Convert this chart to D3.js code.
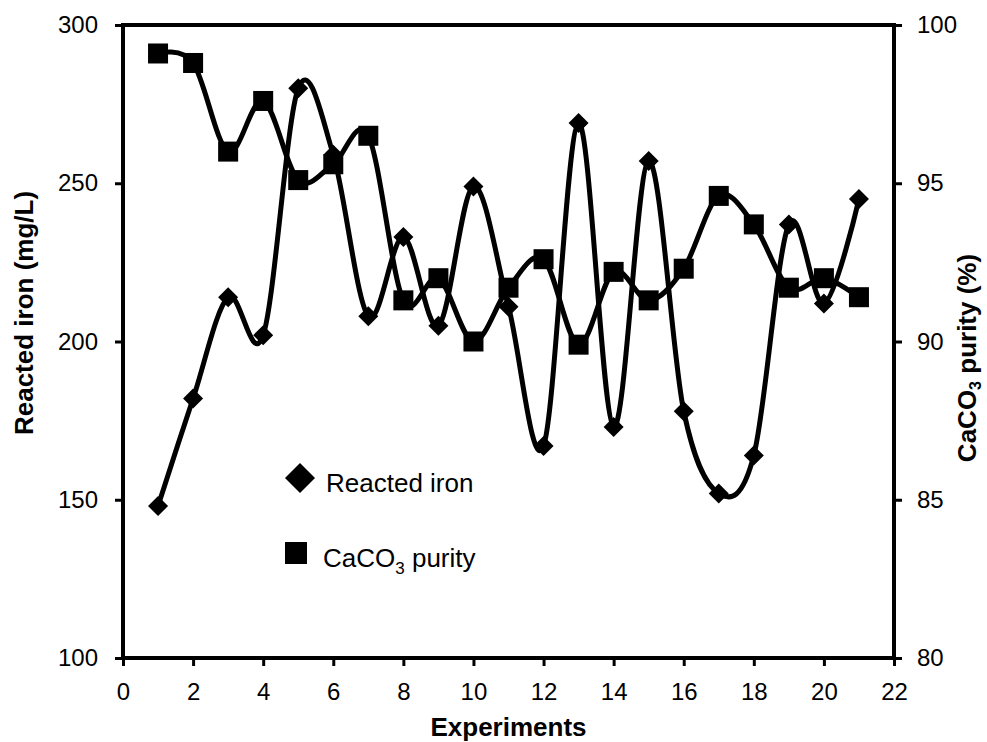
<!DOCTYPE html>
<html>
<head>
<meta charset="utf-8">
<script src="https://cdn.jsdelivr.net/npm/d3@7"></script>
<style>
  body { margin: 0; background: #fff; }
  svg { display: block; font-family: "Liberation Sans", Arial, sans-serif; }
</style>
</head>
<body>
<svg id="chart" width="987" height="742"></svg>
<script>
// Données
const experiments = d3.range(1, 22);
const reactedIron = [148, 182, 214, 202, 280, 259, 208, 233, 205, 249, 211, 167, 269, 173, 257, 178, 152, 164, 237, 212, 245];
const purity = [99.1, 98.8, 96.0, 97.6, 95.1, 95.6, 96.5, 91.3, 92.0, 90.0, 91.7, 92.6, 89.9, 92.2, 91.3, 92.3, 94.6, 93.7, 91.7, 92.0, 91.4];
const xTicks = d3.range(0, 23, 2);
const leftTicks = [100, 150, 200, 250, 300];
const rightTicks = [80, 85, 90, 95, 100];

const svg = d3.select('#chart');
const margin = { top: 25, right: 93, bottom: 84, left: 123 };
const width = 987 - margin.left - margin.right;
const height = 742 - margin.top - margin.bottom;

const x = d3.scaleLinear().domain([0, 22]).range([0, width]);
const yL = d3.scaleLinear().domain([100, 300]).range([height, 0]);
const yR = d3.scaleLinear().domain([80, 100]).range([height, 0]);

const g = svg.append('g').attr('transform', `translate(${margin.left},${margin.top})`);

// Courbes lissées
const lineIron = d3.line().x((d, i) => x(experiments[i])).y(d => yL(d)).curve(d3.curveCardinal.tension(0));
const linePur = d3.line().x((d, i) => x(experiments[i])).y(d => yR(d)).curve(d3.curveCardinal.tension(0));

g.append('path').datum(reactedIron).attr('d', lineIron)
  .attr('fill', 'none').attr('stroke', '#000').attr('stroke-width', 5);
g.append('path').datum(purity).attr('d', linePur)
  .attr('fill', 'none').attr('stroke', '#000').attr('stroke-width', 5);

// Marqueurs
const diamond = s => `M0,${-s}L${s},0L0,${s}L${-s},0Z`;
g.selectAll('.dia').data(reactedIron).enter().append('path')
  .attr('transform', (d, i) => `translate(${x(experiments[i])},${yL(d)})`)
  .attr('d', diamond(10)).attr('fill', '#000');
g.selectAll('.sq').data(purity).enter().append('rect')
  .attr('x', (d, i) => x(experiments[i]) - 10).attr('y', d => yR(d) - 10)
  .attr('width', 20).attr('height', 20).attr('fill', '#000');

// Axes
const styleAxis = sel => {
  sel.select('.domain').remove();
  sel.selectAll('.tick line').attr('stroke', '#000').attr('stroke-width', 3);
  sel.selectAll('.tick text').attr('font-size', 24).attr('fill', '#000')
    .attr('font-family', '"Liberation Sans", Arial, sans-serif');
};
g.append('g').attr('transform', `translate(0,${height})`)
  .call(d3.axisBottom(x).tickValues(xTicks).tickSize(8).tickPadding(17))
  .call(styleAxis);
g.append('g')
  .call(d3.axisLeft(yL).tickValues(leftTicks).tickSize(8).tickPadding(17))
  .call(styleAxis);
g.append('g').attr('transform', `translate(${width},0)`)
  .call(d3.axisRight(yR).tickValues(rightTicks).tickSize(8).tickPadding(15))
  .call(styleAxis);

// Cadre
const frame = g.append('g').attr('stroke', '#000').attr('stroke-width', 4).attr('fill', 'none');
frame.append('line').attr('x1', 0).attr('x2', width).attr('y1', 0).attr('y2', 0);
frame.append('line').attr('x1', 0).attr('x2', width).attr('y1', height).attr('y2', height);
frame.append('line').attr('x1', 0).attr('x2', 0).attr('y1', -2).attr('y2', height + 2);
frame.append('line').attr('x1', width).attr('x2', width).attr('y1', -2).attr('y2', height + 2);

// Titres des axes
svg.append('text').attr('x', margin.left + width / 2).attr('y', 736)
  .attr('text-anchor', 'middle').attr('font-size', 26).attr('font-weight', 'bold')
  .text('Experiments');
svg.append('text').attr('transform', 'translate(33,313) rotate(-90)')
  .attr('text-anchor', 'middle').attr('font-size', 26).attr('font-weight', 'bold')
  .text('Reacted iron (mg/L)');
const rt = svg.append('text').attr('transform', 'translate(976,358) rotate(-90)')
  .attr('text-anchor', 'middle').attr('font-size', 26).attr('font-weight', 'bold');
rt.append('tspan').text('CaCO');
rt.append('tspan').attr('dy', 5).attr('font-size', 16).text('3');
rt.append('tspan').attr('dy', -5).text(' purity (%)');

// Légende
const leg = svg.append('g');
leg.append('path').attr('transform', 'translate(300,478)').attr('d', diamond(15)).attr('fill', '#000');
leg.append('text').attr('x', 326).attr('y', 492).attr('font-size', 26).text('Reacted iron');
leg.append('rect').attr('x', 285).attr('y', 542).attr('width', 22).attr('height', 22).attr('fill', '#000');
const lt = leg.append('text').attr('x', 323).attr('y', 567).attr('font-size', 26);
lt.append('tspan').text('CaCO');
lt.append('tspan').attr('dy', 7).attr('font-size', 17).text('3');
lt.append('tspan').attr('dy', -7).text(' purity');
</script>
</body>
</html>
